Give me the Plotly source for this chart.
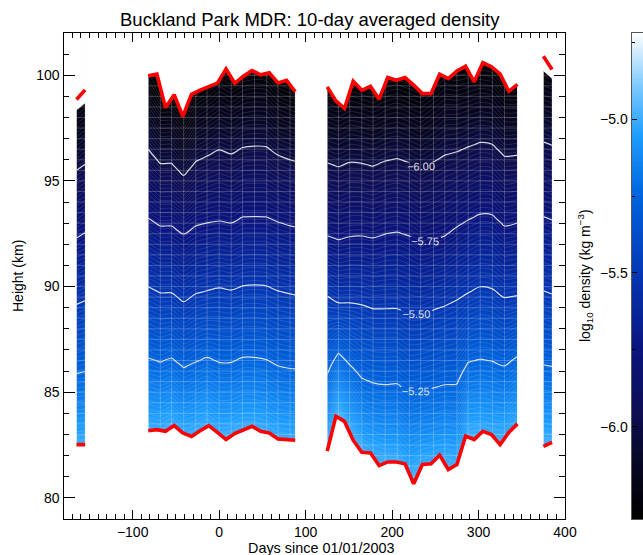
import numpy as np
import plotly.graph_objects as go

# ---------------- data ----------------
LEVELS = [-5.25, -5.50, -5.75, -6.00]

# segment 1
s1_days = [-165, -155]
s1_red_top = [98.85, 99.31]
s1_fill_top = [98.35, 98.68]
s1_red_bot = [82.52, 82.52]
s1_grid = [-165, -155]
s1_h525 = [85.88, 85.98]
s1_h550 = [89.16, 89.33]
s1_h575 = [92.30, 92.55]
s1_h600 = [95.50, 95.79]

# segment 2
s2_days = [-82, -72, -62, -52, -42, -32, -22, -12, -2, 8, 18, 28, 38, 48, 58, 68, 78, 88]
s2_red_top = [99.97, 100.05, 98.47, 99.08, 98.05, 99.10, 99.30, 99.46, 99.63, 100.30, 99.62,
              99.95, 100.22, 100.02, 100.12, 99.64, 99.76, 99.22]
s2_red_bot = [83.18, 83.23, 83.15, 83.42, 83.07, 82.91, 83.18, 83.42, 83.10, 82.76, 83.04,
              83.20, 83.39, 83.15, 83.07, 82.79, 82.76, 82.73]
s2_grid = [-82, -68, -55, -41, -27, -14, 0, 14, 27, 41, 55, 68, 82, 88]
s2_h525 = [86.62, 86.43, 86.62, 86.17, 86.43, 86.65, 86.41, 86.41, 86.65, 86.65, 86.54, 86.25, 86.12, 86.10]
s2_h550 = [89.99, 89.70, 89.70, 89.28, 89.66, 89.80, 89.94, 89.84, 90.03, 90.08, 90.03, 89.80, 89.66, 89.61]
s2_h575 = [93.23, 92.87, 92.87, 92.49, 92.87, 93.01, 93.10, 93.01, 93.29, 93.31, 93.29, 93.06, 92.87, 92.82]
s2_h600 = [96.50, 95.83, 95.83, 95.26, 95.92, 96.18, 96.47, 96.28, 96.58, 96.65, 96.61, 96.22, 96.00, 95.93]

# segment 3
s3_days = [125, 135, 145, 155, 165, 175, 185, 195, 205, 215, 225, 235, 245, 255, 265, 275,
           285, 295, 305, 315, 325, 335, 345]
s3_red_top = [99.45, 98.79, 98.43, 99.72, 99.29, 99.48, 98.87, 99.89, 99.76, 99.89, 99.53, 99.13,
              99.13, 100.05, 99.84, 100.20, 100.43, 99.69, 100.60, 100.40, 100.05, 99.24, 99.57]
s3_red_bot = [82.21, 83.86, 83.62, 82.73, 82.16, 82.13, 81.53, 81.70, 81.70, 81.61, 80.67, 81.58,
              81.61, 82.02, 81.34, 81.58, 82.92, 82.76, 83.15, 83.00, 82.52, 83.10, 83.50]
s3_grid = [125, 138, 151, 165, 178, 192, 206, 220, 233, 248, 261, 275, 288, 302, 316, 330, 345]
s3_h525 = [85.83, 86.85, 86.30, 85.67, 85.44, 85.36, 85.40, 84.93, 85.05, 85.20, 85.35, 85.39,
           86.41, 86.57, 86.46, 86.25, 86.69]
s3_h550 = [89.56, 89.23, 89.23, 89.14, 88.95, 88.95, 88.95, 88.66, 88.66, 88.90, 89.09, 89.37,
           89.70, 89.99, 89.89, 89.47, 89.56]
s3_h575 = [92.39, 92.21, 92.35, 92.39, 92.30, 92.49, 92.58, 92.39, 92.06, 92.21, 92.39, 92.82,
           93.15, 93.43, 93.39, 92.87, 93.01]
s3_h600 = [95.86, 95.67, 95.88, 95.83, 95.70, 95.94, 96.06, 95.86, 95.59, 95.90, 96.22, 96.38,
           96.61, 96.82, 96.74, 96.17, 96.22]

# segment 4
s4_days = [375, 385]
s4_red_top = [100.90, 100.27]
s4_fill_top = [100.20, 99.84]
s4_red_bot = [82.44, 82.63]
s4_grid = [375, 385]
s4_h525 = [86.30, 86.22]
s4_h550 = [89.80, 89.65]
s4_h575 = [93.31, 93.15]
s4_h600 = [96.85, 96.69]

ZMIN, ZMAX = -6.3, -4.72
CB_TICKS = [-6.0, -5.5, -5.0]

segments = [
    dict(days=s1_days, top=s1_red_top, fill_top=s1_fill_top, bot=s1_red_bot, grid=s1_grid,
         h=[s1_h525, s1_h550, s1_h575, s1_h600], labels=False),
    dict(days=s2_days, top=s2_red_top, fill_top=s2_red_top, bot=s2_red_bot, grid=s2_grid,
         h=[s2_h525, s2_h550, s2_h575, s2_h600], labels=False),
    dict(days=s3_days, top=s3_red_top, fill_top=s3_red_top, bot=s3_red_bot, grid=s3_grid,
         h=[s3_h525, s3_h550, s3_h575, s3_h600], labels=True),
    dict(days=s4_days, top=s4_red_top, fill_top=s4_fill_top, bot=s4_red_bot, grid=s4_grid,
         h=[s4_h525, s4_h550, s4_h575, s4_h600], labels=False),
]

colorscale = [
    [0.000, "rgb(0,0,0)"],
    [0.127, "rgb(8,8,40)"],
    [0.222, "rgb(15,15,85)"],
    [0.348, "rgb(10,20,125)"],
    [0.506, "rgb(5,55,180)"],
    [0.665, "rgb(0,100,222)"],
    [0.791, "rgb(30,158,255)"],
    [0.886, "rgb(120,200,255)"],
    [1.000, "rgb(255,255,255)"],
]

heights = np.arange(80.0, 101.76, 0.25)


def build_field(grid, hl):
    z = np.empty((len(heights), len(grid)))
    for j in range(len(grid)):
        hs = [hl[k][j] for k in range(4)]
        lo = (LEVELS[2] - LEVELS[0]) / (hs[2] - hs[0])
        up = (LEVELS[3] - LEVELS[2]) / (hs[3] - hs[2])
        for i, hh in enumerate(heights):
            if hh < hs[0]:
                v = LEVELS[0] + (hh - hs[0]) * lo
            elif hh > hs[3]:
                v = LEVELS[3] + (hh - hs[3]) * up
            else:
                v = float(np.interp(hh, hs, LEVELS))
            z[i, j] = min(max(v, ZMIN), ZMAX)
    return z


FONT = "Liberation Sans, Arial, sans-serif"
fig = go.Figure()

# filled fields with faint fine contours
for s in segments:
    z = build_field(s["grid"], s["h"])
    fig.add_trace(go.Contour(
        x=s["grid"], y=heights, z=z, colorscale=colorscale, zmin=ZMIN, zmax=ZMAX, zauto=False,
        showscale=False, hoverinfo="skip",
        contours=dict(coloring="heatmap", start=-6.3, end=-4.7, size=0.016),
        line=dict(color="rgba(255,255,255,0.2)", width=0.6)))

# labelled contour lines
for s in segments:
    z = build_field(s["grid"], s["h"])
    fig.add_trace(go.Contour(
        x=s["grid"], y=heights, z=z, showscale=False, hoverinfo="skip",
        contours=dict(coloring="none", start=-6.0, end=-5.25, size=0.25,
                      showlabels=s["labels"],
                      labelfont=dict(family=FONT, size=11, color="rgba(235,235,235,0.95)"),
                      labelformat=".2f"),
        line=dict(color="rgba(235,235,235,0.9)", width=1.2)))

# faint data grid lines
for s in segments:
    gx, gy = [], []
    x0, x1 = s["grid"][0], s["grid"][-1]
    for c in s["grid"]:
        gx += [c, c, None]
        gy += [79.5, 101.8, None]
    for hh in np.arange(80.0, 101.6, 0.5):
        gx += [x0, x1, None]
        gy += [hh, hh, None]
    fig.add_trace(go.Scatter(x=gx, y=gy, mode="lines", hoverinfo="skip", showlegend=False,
                             line=dict(color="rgba(255,255,255,0.22)", width=1)))

# white masks outside the measured height range
for s in segments:
    d = s["days"]
    ex = 0.8
    xt = [d[0] - ex] + list(d) + [d[-1] + ex, d[-1] + ex, d[0] - ex]
    yt = [s["fill_top"][0]] + list(s["fill_top"]) + [s["fill_top"][-1], 103, 103]
    fig.add_trace(go.Scatter(x=xt, y=yt, mode="lines", fill="toself", fillcolor="white",
                             line=dict(width=0), hoverinfo="skip", showlegend=False))
    yb = [s["bot"][0]] + list(s["bot"]) + [s["bot"][-1], 77, 77]
    fig.add_trace(go.Scatter(x=xt, y=yb, mode="lines", fill="toself", fillcolor="white",
                             line=dict(width=0), hoverinfo="skip", showlegend=False))

# red boundary lines
for s in segments:
    for key in ("top", "bot"):
        fig.add_trace(go.Scatter(x=s["days"], y=s[key], mode="lines", hoverinfo="skip",
                                 showlegend=False, line=dict(color="rgb(255,0,0)", width=3.6)))

# colour bar drawn as its own small axis pair
cb_vals = np.linspace(ZMIN, ZMAX, 300)
fig.add_trace(go.Heatmap(x=[0, 1], y=cb_vals, z=[[v, v] for v in cb_vals],
                         colorscale=colorscale, zmin=ZMIN, zmax=ZMAX, showscale=False,
                         xaxis="x2", yaxis="y2", hoverinfo="skip"))

TW, H = 643, 555          # target picture size (fractions below are relative to it)
W = 655                   # layout width; the viewer renders ~12 px narrower
xl, xr = 63.5 / TW, 565.0 / TW
yb_, yt_ = 1 - 519.0 / H, 1 - 33.0 / H

axis_common = dict(showline=True, linecolor="black", linewidth=1.3, mirror="ticks",
                   ticks="inside", tickcolor="black", tickwidth=1.3, showgrid=False,
                   zeroline=False, tickfont=dict(family=FONT, size=14, color="black"))

fig.update_layout(
    width=W, height=H, autosize=False, margin=dict(l=0, r=0, t=0, b=0),
    paper_bgcolor="white", plot_bgcolor="white", showlegend=False,
    font=dict(family=FONT, color="black"),
    xaxis=dict(domain=[xl, xr], range=[-180, 400], tick0=0, dtick=100, ticklen=9,
               minor=dict(dtick=10, ticklen=4.5, ticks="inside", tickcolor="black", tickwidth=1),
               **axis_common),
    yaxis=dict(domain=[yb_, yt_], range=[79, 102], tick0=80, dtick=5, ticklen=11,
               minor=dict(dtick=1, ticklen=5.5, ticks="inside", tickcolor="black", tickwidth=1),
               **axis_common),
    xaxis2=dict(domain=[631.5 / TW, 1.0], range=[0, 1], anchor="y2", showticklabels=False,
                ticks="", showline=True, linecolor="#555", linewidth=1, mirror=True,
                showgrid=False, zeroline=False),
    yaxis2=dict(domain=[yb_, yt_], range=[ZMIN, ZMAX], anchor="x2", side="left",
                tickvals=CB_TICKS, tickformat=".1f", ticks="inside", ticklen=5,
                tickcolor="black", tickwidth=1,
                minor=dict(tickvals=[-6.25, -5.75, -5.25, -4.75], ticks="inside", ticklen=3,
                           tickcolor="black"),
                showline=True, linecolor="#555", linewidth=1, mirror=True, showgrid=False,
                zeroline=False, tickfont=dict(family=FONT, size=14, color="black")),
    annotations=[
        dict(text="Buckland Park MDR: 10-day averaged density", x=310 / TW, y=1 - 20 / H,
             xref="paper", yref="paper", showarrow=False, xanchor="center", yanchor="middle",
             font=dict(family=FONT, size=18.5, color="black")),
        dict(text="Days since 01/01/2003", x=321 / TW, y=1 - 548 / H, xref="paper",
             yref="paper", showarrow=False, xanchor="center", yanchor="middle",
             font=dict(family=FONT, size=14.4, color="black")),
        dict(text="Height (km)", x=18 / TW, y=1 - 276 / H, xref="paper", yref="paper",
             showarrow=False, textangle=-90, xanchor="center", yanchor="middle",
             font=dict(family=FONT, size=14, color="black")),
        dict(text="log<sub>10</sub> density (kg m<sup>−3</sup>)", x=585 / TW, y=1 - 276 / H,
             xref="paper", yref="paper", showarrow=False, textangle=-90, xanchor="center",
             yanchor="middle", font=dict(family=FONT, size=14, color="black")),
    ],
)

fig.write_html("out.html")
